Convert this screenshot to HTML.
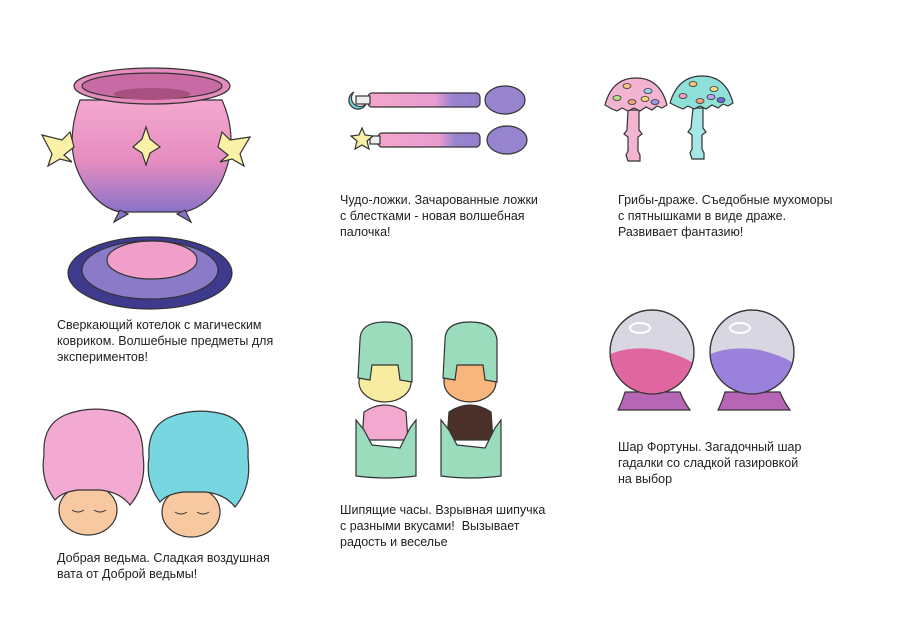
<!DOCTYPE html>
<html><head><meta charset="utf-8"><style>
body{margin:0;background:#fff;width:900px;height:636px;overflow:hidden;position:relative;font-family:"Liberation Sans",sans-serif}
.t{position:absolute;font-size:12.5px;line-height:16px;color:#222;white-space:nowrap}
svg{position:absolute;left:0;top:0}
</style></head><body>
<svg width="900" height="636" viewBox="0 0 900 636">
<defs>
<linearGradient id="pot" x1="0" y1="0" x2="0" y2="1"><stop offset="0" stop-color="#f4a8cf"/><stop offset=".55" stop-color="#e58cc0"/><stop offset="1" stop-color="#8a72c8"/></linearGradient>
<linearGradient id="sp" x1="0" x2="1"><stop offset="0" stop-color="#f3a6cc"/><stop offset=".6" stop-color="#e89ccf"/><stop offset=".75" stop-color="#9a84d0"/><stop offset="1" stop-color="#9280cc"/></linearGradient>
<clipPath id="c1"><circle cx="652" cy="352" r="42"/></clipPath>
<clipPath id="c2"><circle cx="752" cy="352" r="42"/></clipPath>
</defs>
<g stroke="#333" stroke-width="1.2">
<!-- cauldron -->
<path d="M80,100 Q62,150 85,185 Q100,208 120,212 L185,212 Q210,205 222,180 Q240,140 222,100 Z" fill="url(#pot)"/>
<path d="M120,210 l-6,12 l14,-8 Z M185,210 l6,12 l-14,-8 Z" fill="#8a72c8"/>
<ellipse cx="152" cy="86" rx="78" ry="18" fill="#e58bbd"/>
<ellipse cx="152" cy="86" rx="70" ry="13" fill="#c86aa4"/>
<ellipse cx="152" cy="94" rx="38" ry="6" fill="#a8507f" stroke="none"/>
<path d="M133,147 l9,-8 l4,-12 l4,12 l10,8 l-10,6 l-4,12 l-4,-12 Z" fill="#fbf1a6"/>
<path d="M42,135 l20,5 l8,-8 l4,15 l-10,8 l8,7 l-12,-3 l-12,7 l4,-12 Z" fill="#fbf1a6"/>
<path d="M250,137 l-20,3 l-8,-8 l-4,15 l10,8 l-8,7 l12,-3 l12,7 l-4,-12 Z" fill="#fbf1a6"/>
<!-- mat -->
<ellipse cx="150" cy="273" rx="82" ry="36" fill="#3e3a8e"/>
<ellipse cx="150" cy="270" rx="68" ry="29" fill="#8a7ac8"/>
<ellipse cx="152" cy="260" rx="45" ry="19" fill="#f0a0c8"/>
<!-- spoons -->
<rect x="368" y="93" width="112" height="14" rx="4" fill="url(#sp)"/>
<rect x="356" y="96" width="14" height="8" fill="#eee"/>
<ellipse cx="505" cy="100" rx="20" ry="14" fill="#9684cf"/>
<path d="M354,92 a9,9 0 1 0 12,12 a7,7 0 1 1 -12,-12z" fill="#6fd0df"/>
<rect x="378" y="133" width="102" height="14" rx="4" fill="url(#sp)"/>
<rect x="370" y="136" width="10" height="8" fill="#eee"/>
<ellipse cx="507" cy="140" rx="20" ry="14" fill="#9684cf"/>
<path d="M362,128 l3,7 l8,1 l-6,5 l2,8 l-7,-4 l-7,4 l2,-8 l-6,-5 l8,-1 Z" fill="#fbf1a6"/>
<!-- mushrooms -->
<path d="M628,110 l-1,20 l-3,4 l4,3 l0,14 l-2,4 l2,6 l12,0 l0,-6 l-2,-4 l0,-14 l4,-3 l-3,-4 l0,-20 Z" fill="#f3b4d2"/>
<path d="M605,105 Q612,78 636,78 Q660,78 667,105 l-5,3 l-5,-2 l-5,4 l-6,-3 l-6,4 l-6,-3 l-6,3 l-6,-3 l-5,3 l-5,-2 Z" fill="#f3b4d2"/>
<path d="M693,108 l-2,20 l-3,4 l4,3 l0,14 l-2,4 l2,6 l12,0 l0,-6 l-2,-4 l0,-14 l4,-3 l-3,-4 l0,-20 Z" fill="#a5e6e6"/>
<path d="M670,103 Q678,76 702,76 Q726,76 733,103 l-5,3 l-5,-2 l-5,4 l-6,-3 l-6,4 l-6,-3 l-6,3 l-6,-3 l-5,3 l-5,-2 Z" fill="#8fe0d8"/>
<g stroke-width=".8">
<ellipse cx="627" cy="86" rx="4" ry="2.5" fill="#f6c27a"/><ellipse cx="648" cy="91" rx="4" ry="2.5" fill="#9cd4f0"/><ellipse cx="617" cy="98" rx="4" ry="2.5" fill="#b8e08a"/><ellipse cx="632" cy="102" rx="4" ry="2.5" fill="#f2a07a"/><ellipse cx="655" cy="102" rx="4" ry="2.5" fill="#9a9ae0"/><ellipse cx="645" cy="99" rx="4" ry="2.5" fill="#f6d27a"/>
<ellipse cx="693" cy="84" rx="4" ry="2.5" fill="#f6c27a"/><ellipse cx="714" cy="89" rx="4" ry="2.5" fill="#f6e08a"/><ellipse cx="683" cy="96" rx="4" ry="2.5" fill="#f6a0c0"/><ellipse cx="700" cy="101" rx="4" ry="2.5" fill="#f2a07a"/><ellipse cx="721" cy="100" rx="4" ry="2.5" fill="#6a6ad0"/><ellipse cx="711" cy="97" rx="4" ry="2.5" fill="#c0a0f0"/>
</g>
<!-- hourglasses -->
<ellipse cx="385" cy="382" rx="26" ry="20" fill="#f7ec9f"/>
<ellipse cx="470" cy="382" rx="26" ry="20" fill="#f8b57c"/>
<path d="M360,340 Q360,322 385,322 Q410,322 412,340 L412,382 L400,380 L398,365 L372,365 L370,380 L358,378 Z" fill="#9bdcbc"/>
<path d="M445,340 Q445,322 470,322 Q495,322 497,340 L497,382 L485,380 L483,365 L457,365 L455,380 L443,378 Z" fill="#9bdcbc"/>
<path d="M364,412 Q385,398 406,412 L408,440 L362,440 Z" fill="#f3a8d0"/>
<path d="M449,412 Q470,398 491,412 L493,440 L447,440 Z" fill="#4a3028"/>
<path d="M356,420 L364,430 L372,445 L400,448 L410,428 L416,420 L416,476 Q385,480 356,476 Z" fill="#9bdcbc"/>
<path d="M441,420 L449,430 L457,445 L485,448 L495,428 L501,420 L501,476 Q470,480 441,476 Z" fill="#9bdcbc"/>
<!-- spheres -->
<path d="M625,392 L680,392 Q684,402 690,410 L618,410 Q622,402 625,392Z" fill="#b766b6"/>
<path d="M725,392 L780,392 Q784,402 790,410 L718,410 Q722,402 725,392Z" fill="#b766b6"/>
<circle cx="652" cy="352" r="42" fill="#d8d6e0"/>
<path d="M608,355 Q630,345 660,350 Q690,358 696,366 L696,400 L608,400Z" fill="#e0669f" clip-path="url(#c1)" stroke="none"/>
<circle cx="752" cy="352" r="42" fill="#d8d6e0"/>
<path d="M708,355 Q730,345 760,350 Q790,358 796,366 L796,400 L708,400Z" fill="#9a82dc" clip-path="url(#c2)" stroke="none"/>
<circle cx="652" cy="352" r="42" fill="none"/>
<circle cx="752" cy="352" r="42" fill="none"/>
<ellipse cx="640" cy="328" rx="10" ry="5" fill="none" stroke="#fff" stroke-width="2"/>
<ellipse cx="740" cy="328" rx="10" ry="5" fill="none" stroke="#fff" stroke-width="2"/>
<!-- heads -->
<ellipse cx="88" cy="510" rx="29" ry="25" fill="#f8c8a0"/>
<ellipse cx="191" cy="512" rx="29" ry="25" fill="#f8c8a0"/>
<path d="M55,500 Q40,480 44,455 Q42,425 65,415 Q90,405 118,412 Q143,420 143,455 Q147,485 130,505 Q120,492 100,490 L78,490 Q62,492 55,500Z" fill="#f3aad2"/>
<path d="M160,502 Q145,482 149,457 Q147,427 170,417 Q195,407 223,414 Q250,422 248,457 Q252,487 235,507 Q225,494 205,492 L183,492 Q167,494 160,502Z" fill="#77d6df"/>
<g fill="none" stroke-width="1">
<path d="M72,510 q6,4 12,0 M94,510 q6,4 12,0"/><path d="M175,512 q6,4 12,0 M197,512 q6,4 12,0"/>
</g>
</g>
</svg>
<div class="t" style="left:57px;top:317px">Сверкающий котелок с магическим<br>ковриком. Волшебные предметы для<br>экспериментов!</div>
<div class="t" style="left:340px;top:192px">Чудо-ложки. Зачарованные ложки<br>с блестками - новая волшебная<br>палочка!</div>
<div class="t" style="left:618px;top:192px">Грибы-драже. Съедобные мухоморы<br>с пятнышками в виде драже.<br>Развивает фантазию!</div>
<div class="t" style="left:340px;top:502px">Шипящие часы. Взрывная шипучка<br>с разными вкусами!&nbsp; Вызывает<br>радость и веселье</div>
<div class="t" style="left:618px;top:439px">Шар Фортуны. Загадочный шар<br>гадалки со сладкой газировкой<br>на выбор</div>
<div class="t" style="left:57px;top:550px">Добрая ведьма. Сладкая воздушная<br>вата от Доброй ведьмы!</div>
</body></html>
